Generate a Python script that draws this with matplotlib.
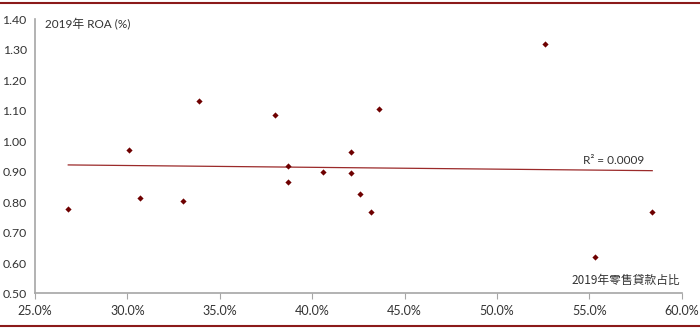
import numpy as np
import matplotlib
matplotlib.use("Agg")
import matplotlib.pyplot as plt
from matplotlib.lines import Line2D

plt.rcParams['font.family'] = ['Lato', 'Noto Sans CJK TC', 'DejaVu Sans']

# retail loan share 2019 (%), ROA 2019 (%)
retail_share = [26.8, 30.1, 30.7, 33.0, 33.9, 38.0, 38.7, 38.7, 40.6,
                42.1, 42.1, 42.6, 43.2, 43.6, 52.6, 55.3, 58.4]
roa = [0.776, 0.970, 0.815, 0.804, 1.133, 1.087, 0.920, 0.867, 0.899,
       0.964, 0.896, 0.827, 0.766, 1.106, 1.320, 0.620, 0.766]
x_ticks = [25, 30, 35, 40, 45, 50, 55, 60]
y_ticks = [0.5, 0.6, 0.7, 0.8, 0.9, 1.0, 1.1, 1.2, 1.3, 1.4]

x = np.array(retail_share)
y = np.array(roa)
slope, intercept = np.polyfit(x, y, 1)
x_fit = np.array([x.min(), x.max()])
y_fit = slope * x_fit + intercept

fig = plt.figure(figsize=(7, 3.29), dpi=100)
ax = fig.add_axes([0.05, 0.108, 0.924, 0.833])

ax.plot(x_fit, y_fit, color='#9b2a2a', lw=0.9)
ax.scatter(x, y, marker='D', s=10, color='#6e0000', zorder=3, linewidths=0)

ax.set_xlim(25, 60)
ax.set_ylim(0.5, 1.4)
ax.set_xticks(x_ticks)
ax.set_xticklabels([f"{t:.1f}%" for t in x_ticks])
ax.set_yticks(y_ticks)
ax.set_yticklabels([f"{t:.2f}" for t in y_ticks])

for s in ['top', 'right']:
    ax.spines[s].set_visible(False)
for s in ['left', 'bottom']:
    ax.spines[s].set_color('#a6a6a6')
    ax.spines[s].set_linewidth(1.2)
ax.tick_params(axis='x', direction='out', length=4, color='#a6a6a6',
               labelsize=9, labelcolor='#333333', pad=4)
ax.tick_params(axis='y', length=0, labelsize=8.8, labelcolor='#333333', pad=6)

ax.text(0.015, 0.983, "2019年 ROA (%)", transform=ax.transAxes, fontsize=8.5,
        color='#333333', va='center', ha='left')
ax.text(0.847, 0.487, "R² = 0.0009", transform=ax.transAxes, fontsize=8.5,
        color='#333333', va='center', ha='left')
ax.text(0.998, 0.049, "2019年零售貸款占比", transform=ax.transAxes, fontsize=8.5,
        color='#333333', va='center', ha='right',
        family=['Noto Sans CJK TC', 'DejaVu Sans'])

fig.add_artist(Line2D([0, 1], [1 - 3 / 329, 1 - 3 / 329], color='#8b1a1a', lw=1.5,
                      transform=fig.transFigure))
fig.add_artist(Line2D([0, 1], [1 - 326 / 329, 1 - 326 / 329], color='#8b1a1a', lw=1.5,
                      transform=fig.transFigure))

fig.savefig("out.png", dpi=100)
